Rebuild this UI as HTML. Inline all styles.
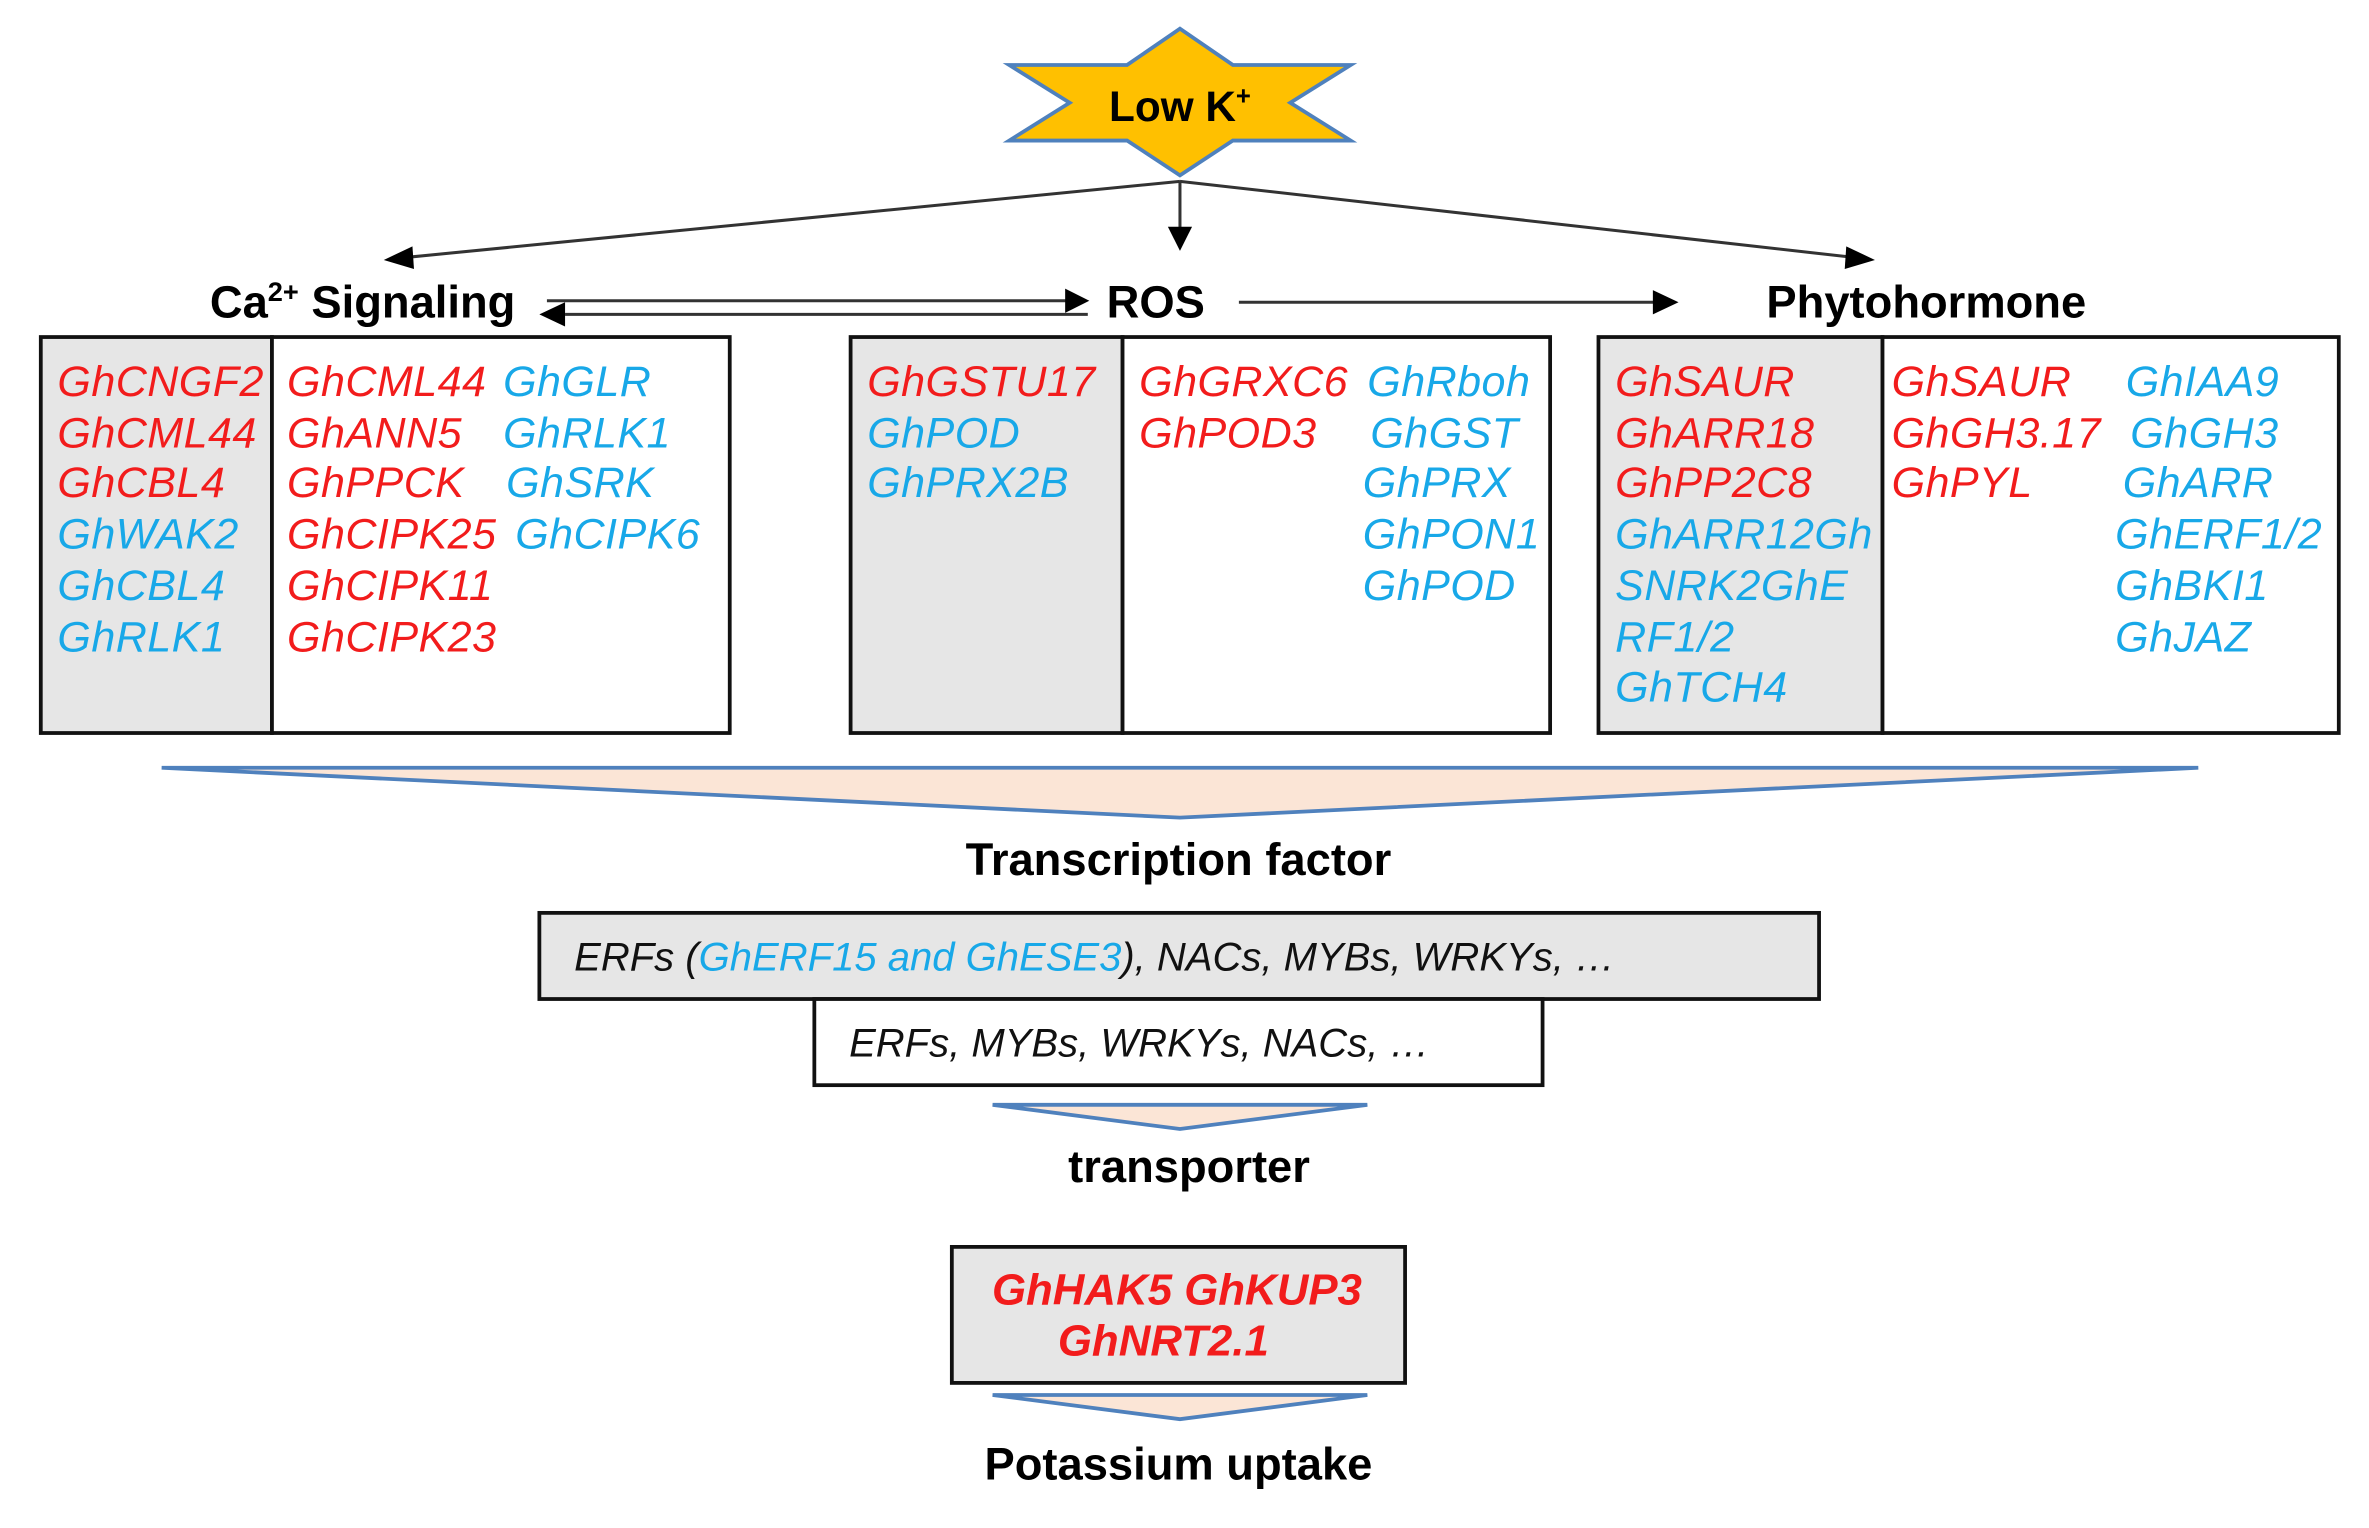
<!DOCTYPE html>
<html><head><meta charset="utf-8"><style>
html,body{margin:0;padding:0;background:#fff;}
svg{display:block;}
.g{font-family:"Liberation Sans",sans-serif;font-style:italic;font-size:28.5px;letter-spacing:0.3px;}
.r{fill:#f21c1c;}
.b{fill:#18a8e8;}
.h{font-family:"Liberation Sans",sans-serif;font-weight:bold;font-size:30px;fill:#000;}
</style></head><body>
<svg width="2369" height="1528" viewBox="0 0 1568 1011" preserveAspectRatio="none" xmlns="http://www.w3.org/2000/svg">
<!-- star -->
<polygon points="781,19 816,43 894,43 854,68 894,93 816,93 781,116 746,93 668,93 708,68 668,43 746,43" fill="#ffc000" stroke="#4f81bd" stroke-width="2.5"/>
<text x="781" y="80" text-anchor="middle" class="h" style="font-size:28px">Low K<tspan dy="-11" style="font-size:17px">+</tspan></text>

<!-- arrows from star -->
<g stroke="#333" stroke-width="2" fill="none">
<line x1="781" y1="120" x2="272" y2="170"/>
<line x1="781" y1="120" x2="781" y2="152"/>
<line x1="781" y1="120" x2="1224" y2="170"/>
<line x1="362" y1="199" x2="706" y2="199"/>
<line x1="374" y1="208" x2="720" y2="208"/>
<line x1="820" y1="200" x2="1095" y2="200"/>
</g>
<g fill="#000">
<polygon points="254,172 273,163 274,178"/>
<polygon points="781,166 773,150 789,150"/>
<polygon points="1241,172 1222,163 1221,178"/>
<polygon points="721,199 705,191 705,207"/>
<polygon points="357,208 374,200 374,216"/>
<polygon points="1111,200 1094,192 1094,208"/>
</g>

<text x="240" y="210" text-anchor="middle" class="h">Ca<tspan dy="-11" style="font-size:18px">2+</tspan><tspan dy="11"> Signaling</tspan></text>
<text x="765" y="210" text-anchor="middle" class="h">ROS</text>
<text x="1275" y="210" text-anchor="middle" class="h">Phytohormone</text>

<!-- boxes -->
<g stroke="#111" stroke-width="2.5">
<rect x="27" y="223" width="153" height="262" fill="#e6e6e6"/>
<rect x="180" y="223" width="303" height="262" fill="#fff"/>
<rect x="563" y="223" width="180" height="262" fill="#e6e6e6"/>
<rect x="743" y="223" width="283" height="262" fill="#fff"/>
<rect x="1058" y="223" width="188" height="262" fill="#e6e6e6"/>
<rect x="1246" y="223" width="302" height="262" fill="#fff"/>
</g>

<g class="g">
<text x="38" y="262" class="r">GhCNGF2</text>
<text x="38" y="296" class="r">GhCML44</text>
<text x="38" y="329" class="r">GhCBL4</text>
<text x="38" y="363" class="b">GhWAK2</text>
<text x="38" y="397" class="b">GhCBL4</text>
<text x="38" y="431" class="b">GhRLK1</text>
<text x="190" y="262" class="r">GhCML44</text>
<text x="190" y="296" class="r">GhANN5</text>
<text x="190" y="329" class="r">GhPPCK</text>
<text x="190" y="363" class="r">GhCIPK25</text>
<text x="190" y="397" class="r">GhCIPK11</text>
<text x="190" y="431" class="r">GhCIPK23</text>
<text x="333" y="262" class="b">GhGLR</text>
<text x="333" y="296" class="b">GhRLK1</text>
<text x="335" y="329" class="b">GhSRK</text>
<text x="341" y="363" class="b">GhCIPK6</text>
<text x="574" y="262" class="r">GhGSTU17</text>
<text x="574" y="296" class="b">GhPOD</text>
<text x="574" y="329" class="b">GhPRX2B</text>
<text x="754" y="262" class="r">GhGRXC6</text>
<text x="754" y="296" class="r">GhPOD3</text>
<text x="905" y="262" class="b">GhRboh</text>
<text x="907" y="296" class="b">GhGST</text>
<text x="902" y="329" class="b">GhPRX</text>
<text x="902" y="363" class="b">GhPON1</text>
<text x="902" y="397" class="b">GhPOD</text>
<text x="1069" y="262" class="r">GhSAUR</text>
<text x="1069" y="296" class="r">GhARR18</text>
<text x="1069" y="329" class="r">GhPP2C8</text>
<text x="1069" y="363" class="b">GhARR12Gh</text>
<text x="1069" y="397" class="b">SNRK2GhE</text>
<text x="1069" y="431" class="b">RF1/2</text>
<text x="1069" y="464" class="b">GhTCH4</text>
<text x="1252" y="262" class="r">GhSAUR</text>
<text x="1252" y="296" class="r">GhGH3.17</text>
<text x="1252" y="329" class="r">GhPYL</text>
<text x="1407" y="262" class="b">GhIAA9</text>
<text x="1410" y="296" class="b">GhGH3</text>
<text x="1405" y="329" class="b">GhARR</text>
<text x="1400" y="363" class="b">GhERF1/2</text>
<text x="1400" y="397" class="b">GhBKI1</text>
<text x="1400" y="431" class="b">GhJAZ</text>
</g>

<polygon points="107,508 1455,508 781,541" fill="#fbe5d6" stroke="#4f81bd" stroke-width="2.5"/>
<text x="780" y="579" text-anchor="middle" class="h">Transcription factor</text>

<rect x="357" y="604" width="847" height="57" fill="#e6e6e6" stroke="#111" stroke-width="2.5"/>
<rect x="539" y="661" width="482" height="57" fill="#fff" stroke="#111" stroke-width="2.5"/>
<text x="380" y="642" class="g" style="font-size:26.5px;letter-spacing:0;fill:#111">ERFs (<tspan class="b">GhERF15 and GhESE3</tspan>), NACs, MYBs, WRKYs, …</text>
<text x="562" y="699" class="g" style="font-size:26.5px;letter-spacing:0;fill:#111">ERFs, MYBs, WRKYs, NACs, …</text>

<polygon points="657,731 905,731 781,747" fill="#fbe5d6" stroke="#4f81bd" stroke-width="2.5"/>
<text x="787" y="782" text-anchor="middle" class="h">transporter</text>

<rect x="630" y="825" width="300" height="90" fill="#e6e6e6" stroke="#111" stroke-width="2.5"/>
<text x="779" y="863" text-anchor="middle" class="g r" style="font-weight:bold;font-size:29px;letter-spacing:0">GhHAK5 GhKUP3</text>
<text x="770" y="897" text-anchor="middle" class="g r" style="font-weight:bold;font-size:29px;letter-spacing:0">GhNRT2.1</text>

<polygon points="657,923 905,923 781,939" fill="#fbe5d6" stroke="#4f81bd" stroke-width="2.5"/>
<text x="780" y="979" text-anchor="middle" class="h">Potassium uptake</text>
</svg>
</body></html>
